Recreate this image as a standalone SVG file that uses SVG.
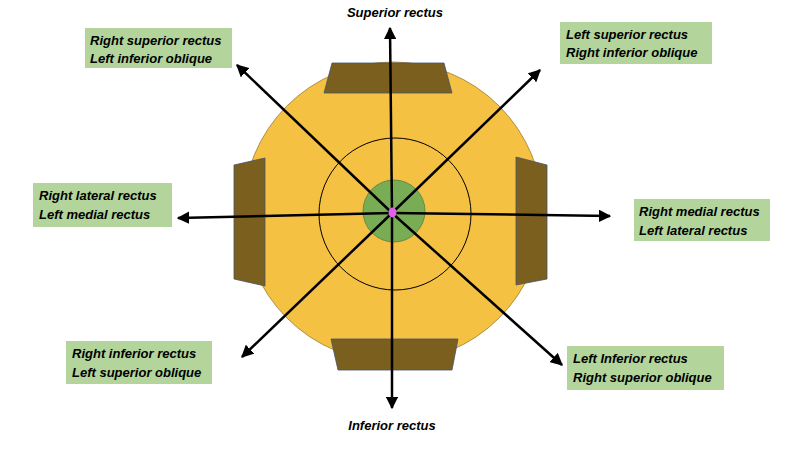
<svg xmlns="http://www.w3.org/2000/svg" width="800" height="451" viewBox="0 0 800 451">
<defs>
<marker id="ah" viewBox="0 0 10 10" refX="9" refY="5" markerWidth="5" markerHeight="5" orient="auto"><path d="M0,0L10,5L0,10z" fill="#000"/></marker>
<style>
.t{font-family:"Liberation Sans",Arial,sans-serif;font-weight:bold;font-style:italic;font-size:13px;fill:#000}
.b{fill:#b3d59b}
.m{fill:#7a5f1f;stroke:#44546a;stroke-width:0.8}
.c{stroke:#000;stroke-width:2.5;fill:none;marker-end:url(#ah)}
</style>
</defs>
<g id="eye">
<circle cx="393" cy="212" r="150" fill="#f5c142" stroke="#9a7a2a" stroke-width="0.8"/>
<circle cx="395" cy="214" r="76" fill="none" stroke="#000" stroke-width="1"/>
<circle cx="394" cy="211" r="31" fill="#79ad55" stroke="#5b7f3f" stroke-width="0.8"/>
</g>
<g id="muscles">
<polygon class="m" points="332,63 444,63 452,93 324,93"/>
<polygon class="m" points="331,339 458,339 452,370 338,370"/>
<polygon class="m" points="265,158 265,286 234,279 234,165"/>
<polygon class="m" points="516,157 547,165 547,279 516,285"/>
</g>
<g id="connectors">
<line class="c" x1="392" y1="213" x2="390" y2="28"/>
<line class="c" x1="392" y1="213" x2="392" y2="408"/>
<line class="c" x1="392" y1="213" x2="178" y2="218"/>
<line class="c" x1="392" y1="213" x2="610" y2="216"/>
<line class="c" x1="392" y1="213" x2="237" y2="65"/>
<line class="c" x1="392" y1="213" x2="540" y2="70"/>
<line class="c" x1="392" y1="213" x2="242" y2="357"/>
<line class="c" x1="392" y1="213" x2="562" y2="365"/>
</g>
<g id="pupil"><ellipse cx="392.5" cy="212.5" rx="4" ry="5" fill="#e060e8"/></g>
<g id="l-top"><text class="t" x="395" y="17" text-anchor="middle">Superior rectus</text></g>
<g id="l-bottom"><text class="t" x="392" y="430" text-anchor="middle">Inferior rectus</text></g>
<g id="l-tl"><rect class="b" x="85" y="28" width="147" height="40"/><text class="t" x="90" y="45">Right superior rectus</text><text class="t" x="90" y="63">Left inferior oblique</text></g>
<g id="l-tr"><rect class="b" x="560" y="22" width="152" height="42"/><text class="t" x="566" y="39">Left superior rectus</text><text class="t" x="566" y="57">Right inferior oblique</text></g>
<g id="l-l"><rect class="b" x="33" y="183" width="139" height="44"/><text class="t" x="39" y="200">Right lateral rectus</text><text class="t" x="39" y="219">Left medial rectus</text></g>
<g id="l-r"><rect class="b" x="634" y="199" width="136" height="42"/><text class="t" x="639" y="216">Right medial rectus</text><text class="t" x="639" y="235">Left lateral rectus</text></g>
<g id="l-bl"><rect class="b" x="66" y="341" width="146" height="43"/><text class="t" x="72" y="358">Right inferior rectus</text><text class="t" x="72" y="377">Left superior oblique</text></g>
<g id="l-br"><rect class="b" x="567" y="346" width="157" height="44"/><text class="t" x="573" y="363">Left Inferior rectus</text><text class="t" x="573" y="382">Right superior oblique</text></g>
</svg>
